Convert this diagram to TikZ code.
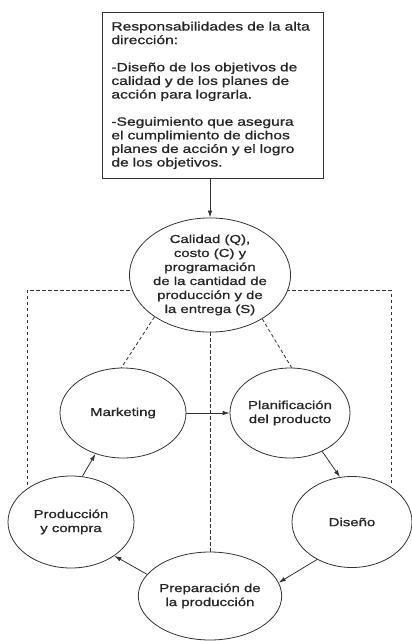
\documentclass[tikz,border=0pt]{standalone}
\usepackage{fontspec}
\setmainfont{Liberation Sans}[FakeStretch=1.3, FakeBold=1]
\usetikzlibrary{shapes.geometric,arrows.meta}
\begin{document}
\begin{tikzpicture}[x=1pt,y=-1pt,
  every node/.style={font=\fontsize{11.5}{14}\selectfont, text=black!85},
  lin/.style={line width=0.8pt, draw=black!80},
  oval/.style={lin, ellipse, inner sep=0pt, align=center},
  flow/.style={lin, -{Latex[length=7pt,width=4.5pt]}},
  link/.style={lin, dash pattern=on 3.5pt off 2.5pt}]
  \useasboundingbox (0,0) rectangle (412,641);
  \fill[white] (0,0) rectangle (412,641);

  % responsibilities box
  \node[lin, draw, anchor=north west, inner xsep=9pt, inner ysep=0pt,
        text width=203pt, minimum height=166pt, align=left,
        font=\fontsize{12}{13.6}\selectfont] (box) at (102,12)
    {Responsabilidades de la alta\\dirección:\\[13.6pt]
     -Diseño de los objetivos de\\calidad y de los planes de\\acción para lograrla.\\[13.6pt]
     -Seguimiento que asegura\\el cumplimiento de dichos\\planes de acción y el logro\\de los objetivos.};

  % central goal
  \node[oval, minimum width=154pt, minimum height=106pt] (q) at (210,275)
    {Calidad (Q),\\costo (C) y\\programación\\de la cantidad de\\producción y de\\la entrega (S)};

  % cycle of functions
  \node[oval, minimum width=126pt, minimum height=90pt] (mk) at (123,413) {Marketing};
  \node[oval, minimum width=120pt, minimum height=90pt] (pl) at (290,413) {Planificación\\del producto};
  \node[oval, minimum width=120pt, minimum height=91pt] (ds) at (352,522) {Diseño};
  \node[oval, minimum width=126pt, minimum height=92pt] (pc) at (71,522) {Producción\\y compra};
  \node[oval, minimum width=130pt, minimum height=88pt] (pp) at (210,596) {Preparación de\\la producción};

  % open ends of the side links
  \coordinate (lb) at (27,485);
  \coordinate (rb) at (391,483);

  % flow arrows
  \draw[flow] (box.south -| q.north) -- (q.north);
  \draw[flow] (mk.east) -- (pl.west);
  \draw[flow] (pl.-50) -- (ds.105);
  \draw[flow] (ds.227) -- (pp.11);
  \draw[flow] (pp.161) -- (pc.-38);
  \draw[flow] (pc.76) -- (mk.236);

  % dashed links to the goal
  \draw[link] (q.217) -- (mk.92);
  \draw[link] (q.320) -- (pl.88);
  \draw[link] (q.south) -- (pp.north);
  \draw[link] (lb) |- (q.191);
  \draw[link] (rb) |- (q.-11);
\end{tikzpicture}
\end{document}
